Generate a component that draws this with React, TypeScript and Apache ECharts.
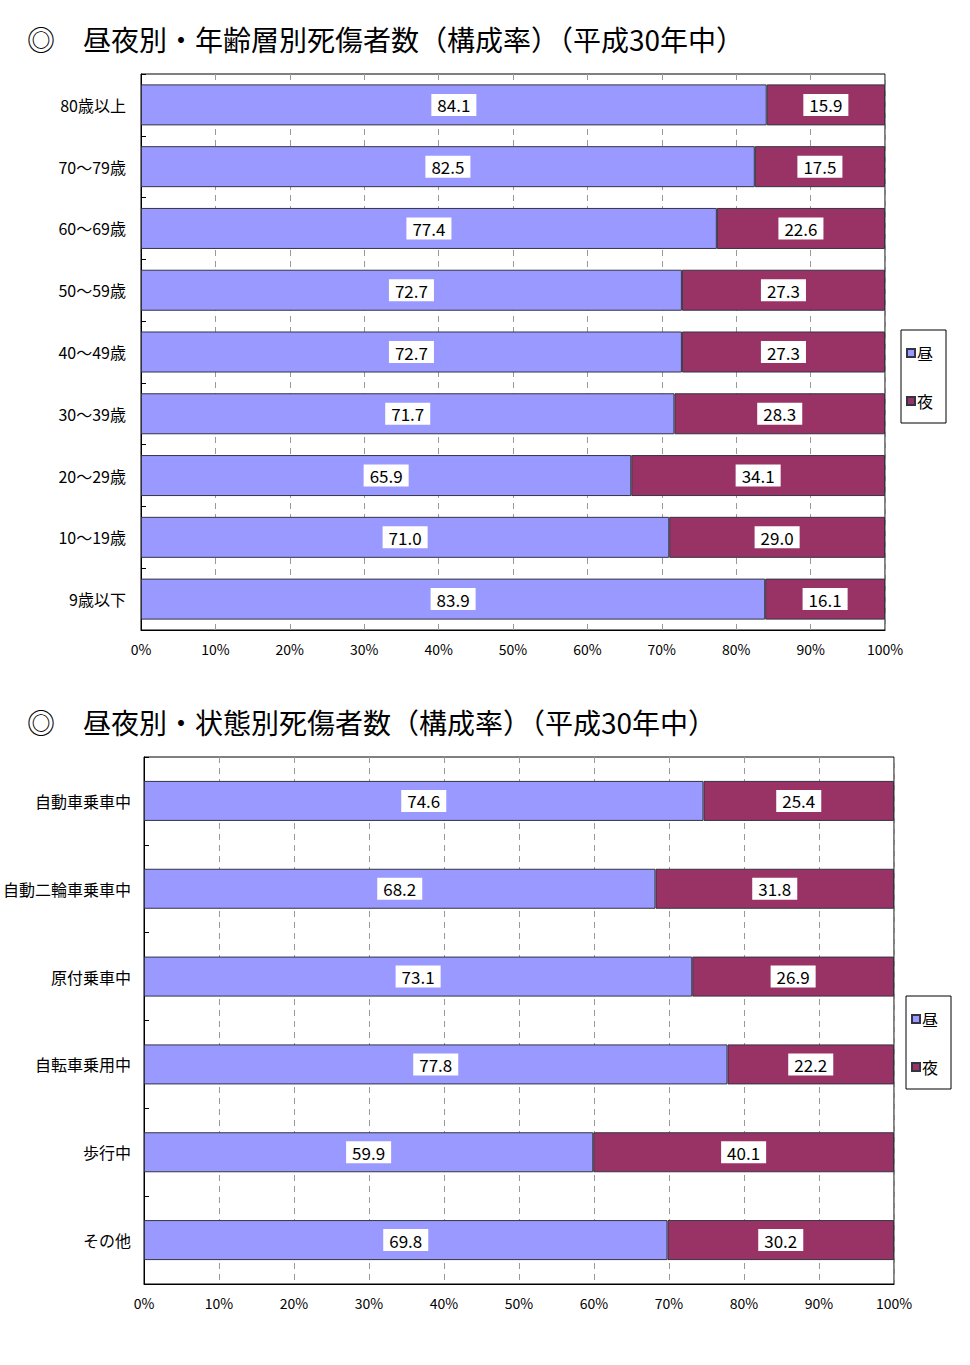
import React, { useEffect, useRef } from "react";
import * as echarts from "echarts";

const title1 = "◎　昼夜別・年齢層別死傷者数（構成率）（平成30年中）";
const title2 = "◎　昼夜別・状態別死傷者数（構成率）（平成30年中）";
const seriesNames = ["昼", "夜"];

const ageCategories = ["80歳以上", "70～79歳", "60～69歳", "50～59歳", "40～49歳", "30～39歳", "20～29歳", "10～19歳", "9歳以下"];
const ageDay = [84.1, 82.5, 77.4, 72.7, 72.7, 71.7, 65.9, 71.0, 83.9];
const ageNight = [15.9, 17.5, 22.6, 27.3, 27.3, 28.3, 34.1, 29.0, 16.1];

const stateCategories = ["自動車乗車中", "自動二輪車乗車中", "原付乗車中", "自転車乗用中", "歩行中", "その他"];
const stateDay = [74.6, 68.2, 73.1, 77.8, 59.9, 69.8];
const stateNight = [25.4, 31.8, 26.9, 22.2, 40.1, 30.2];

const FONT = "'Noto Sans CJK JP', sans-serif";
const DAY_COLOR = "#9999FF";
const NIGHT_COLOR = "#993366";

export default function App() {
  const ref = useRef<HTMLDivElement>(null);
  useEffect(() => {
    if (!ref.current) return;
    const chart = echarts.init(ref.current, null, { renderer: "svg" });
    const label = {
      show: true,
      position: "inside",
      color: "#000",
      fontSize: 17,
      fontFamily: FONT,
      backgroundColor: "#fff",
      padding: [3, 6, 2, 6],
      formatter: (p: any) => Number(p.value).toFixed(1),
    };
    const xAxis = (gridIndex: number) => ({
      type: "value",
      gridIndex,
      min: 0,
      max: 100,
      interval: 10,
      axisLine: { show: true, lineStyle: { color: "#000" } },
      axisTick: { show: false },
      axisLabel: { formatter: "{value}%", color: "#000", fontSize: 14, fontFamily: FONT, margin: 12 },
      splitLine: { show: true, lineStyle: { color: "#999", type: [6, 5], width: 1 } },
    });
    const yAxis = (gridIndex: number, data: string[], margin: number) => ({
      type: "category",
      gridIndex,
      data,
      inverse: true,
      axisLine: { show: true, lineStyle: { color: "#000" } },
      axisTick: { show: true, inside: true, length: 5, lineStyle: { color: "#000" } },
      axisLabel: { color: "#000", fontSize: 16, fontFamily: FONT, margin },
      splitLine: { show: false },
    });
    const legend = (top: number, left: number) => ({
      orient: "vertical",
      left,
      top,
      data: seriesNames,
      borderColor: "#000",
      borderWidth: 1,
      padding: [15, 13, 14, 5],
      itemGap: 32,
      itemWidth: 8,
      itemHeight: 8,
      icon: "rect",
      textStyle: { color: "#000", fontSize: 16, fontFamily: FONT, padding: [0, 0, 0, -3] },
      selectedMode: false,
    });
    const mkSeries = (name: string, data: number[], color: string, idx: number, barWidth: number) => ({
      name,
      type: "bar",
      stack: "s" + idx,
      xAxisIndex: idx,
      yAxisIndex: idx,
      barWidth,
      data,
      itemStyle: { color, borderColor: "#333344", borderWidth: 1 },
      label,
    });
    chart.setOption({
      animation: false,
      backgroundColor: "#fff",
      title: [
        { text: title1, left: 22, top: 20, textStyle: { fontSize: 28, fontWeight: "normal", color: "#000", fontFamily: FONT } },
        { text: title2, left: 22, top: 703, textStyle: { fontSize: 28, fontWeight: "normal", color: "#000", fontFamily: FONT } },
      ],
      grid: [
        { left: 141, top: 74, width: 744, height: 556, show: true, borderColor: "#000", borderWidth: 1 },
        { left: 143, top: 757, width: 751, height: 527, show: true, borderColor: "#000", borderWidth: 1 },
      ],
      legend: [legend(330, 901), legend(996, 906)],
      xAxis: [xAxis(0), xAxis(1)],
      yAxis: [yAxis(0, ageCategories, 15), yAxis(1, stateCategories, 13)],
      series: [
        mkSeries(seriesNames[0], ageDay, DAY_COLOR, 0, 41),
        mkSeries(seriesNames[1], ageNight, NIGHT_COLOR, 0, 41),
        mkSeries(seriesNames[0], stateDay, DAY_COLOR, 1, 40),
        mkSeries(seriesNames[1], stateNight, NIGHT_COLOR, 1, 40),
      ],
    });
    return () => chart.dispose();
  }, []);
  return <div ref={ref} style={{ position: "absolute", left: 0, top: 0, width: 970, height: 1365 }} />;
}
